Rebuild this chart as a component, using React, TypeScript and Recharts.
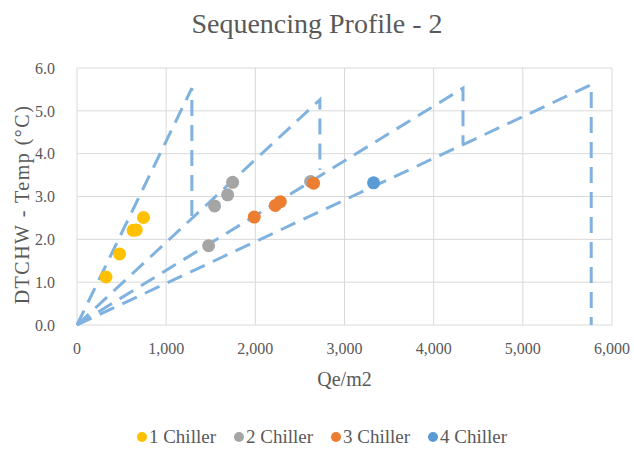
import React from 'react';
import {
  ComposedChart,
  Scatter,
  Line,
  XAxis,
  YAxis,
  CartesianGrid,
  Legend,
} from 'recharts';

// chiller operating points: Qe/m2 vs DTCHW
const chiller1Qe = [325, 477, 630, 665, 746];
const chiller1Dt = [1.12, 1.66, 2.21, 2.22, 2.51];
const chiller2Qe = [1476, 1543, 1689, 1745, 2620];
const chiller2Dt = [1.85, 2.78, 3.04, 3.33, 3.35];
const chiller3Qe = [1988, 2224, 2280, 2653];
const chiller3Dt = [2.52, 2.79, 2.88, 3.31];
const chiller4Qe = [3326];
const chiller4Dt = [3.32];

// sequencing boundaries (dashed)
const bound1Qe = [0, 1288, 1288];
const bound1Dt = [0, 5.53, 2.49];
const bound2Qe = [0, 2724, 2724];
const bound2Dt = [0, 5.26, 3.62];
const bound3Qe = [0, 4329, 4329];
const bound3Dt = [0, 5.53, 4.21];
const bound4Qe = [0, 5767, 5767];
const bound4Dt = [0, 5.61, 0];

const xTicks = [0, 1000, 2000, 3000, 4000, 5000, 6000];
const yTicks = [0, 1, 2, 3, 4, 5, 6];

const seriesNames = ['1 Chiller', '2 Chiller', '3 Chiller', '4 Chiller'];
const seriesColors = ['#FFC000', '#A5A5A5', '#ED7D31', '#5B9BD5'];

const toPts = (xs: number[], ys: number[]) => xs.map((x, i) => ({ x, y: ys[i] }));

const FONT = "'Liberation Serif', 'Times New Roman', serif";
const TXT = '#595959';
const DASH = '#80B2E0';

const boundaries = [
  toPts(bound1Qe, bound1Dt),
  toPts(bound2Qe, bound2Dt),
  toPts(bound3Qe, bound3Dt),
  toPts(bound4Qe, bound4Dt),
];

const chillers = [
  toPts(chiller1Qe, chiller1Dt),
  toPts(chiller2Qe, chiller2Dt),
  toPts(chiller3Qe, chiller3Dt),
  toPts(chiller4Qe, chiller4Dt),
];

function YTitle({ viewBox }: any) {
  const x = viewBox.x + 22;
  const y = viewBox.y + viewBox.height / 2 + 8;
  return (
    <text
      x={x}
      y={y}
      transform={`rotate(-90, ${x}, ${y})`}
      textAnchor="middle"
      dominantBaseline="central"
      fill={TXT}
      fontSize={20}
      fontFamily={FONT}
      letterSpacing={1.5}
    >
      DTCHW - Temp (°C)
    </text>
  );
}

function LegendRow() {
  return (
    <div style={{ display: 'flex', justifyContent: 'center', paddingLeft: 32, fontFamily: FONT, fontSize: 19, color: TXT, lineHeight: '24px' }}>
      {seriesNames.map((n, i) => (
        <div key={n} style={{ display: 'flex', alignItems: 'center', marginRight: i < 3 ? 18 : 0 }}>
          <svg width={10} height={10} style={{ marginRight: 2 }}>
            <circle cx={5} cy={5} r={5} fill={seriesColors[i]} />
          </svg>
          <span>{n}</span>
        </div>
      ))}
    </div>
  );
}

export default function App() {
  return (
    <div style={{ position: 'absolute', left: 0, top: 0, width: 634, height: 450, background: '#fff', fontFamily: FONT }}>
      <div
        style={{
          position: 'absolute',
          top: 8,
          left: 0,
          width: 634,
          textAlign: 'center',
          fontFamily: FONT,
          fontSize: 28,
          lineHeight: 'normal',
          color: TXT,
        }}
      >
        Sequencing Profile - 2
      </div>
      <ComposedChart width={634} height={450} margin={{ top: 68, right: 22, left: 0, bottom: 39 }}>
        <CartesianGrid stroke="#d9d9d9" />
        <XAxis
          type="number"
          dataKey="x"
          domain={[0, 6000]}
          ticks={xTicks}
          tickFormatter={(v: number) => v.toLocaleString('en-US')}
          axisLine={false}
          tickLine={false}
          tickMargin={12}
          height={62}
          tick={{ fill: TXT, fontSize: 16, fontFamily: FONT }}
          label={{ value: 'Qe/m2', position: 'insideBottom', offset: 1, fill: TXT, fontSize: 20, fontFamily: FONT }}
        />
        <YAxis
          type="number"
          dataKey="y"
          domain={[0, 6]}
          ticks={yTicks}
          tickFormatter={(v: number) => v.toFixed(1)}
          axisLine={false}
          tickLine={false}
          tickMargin={16}
          width={77}
          tick={{ fill: TXT, fontSize: 16, fontFamily: FONT }}
          label={{ content: YTitle }}
        />
        {boundaries.map((pts, i) => (
          <Line
            key={i}
            data={pts}
            dataKey="y"
            stroke={DASH}
            strokeWidth={3}
            strokeDasharray="16 9"
            dot={false}
            activeDot={false}
            legendType="none"
            isAnimationActive={false}
          />
        ))}
        {chillers.map((pts, i) => (
          <Scatter
            key={seriesNames[i]}
            name={seriesNames[i]}
            data={pts}
            fill={seriesColors[i]}
            isAnimationActive={false}
            shape={(p: any) => <circle cx={p.cx} cy={p.cy} r={6.5} fill={seriesColors[i]} />}
          />
        ))}
        <Legend verticalAlign="bottom" height={24} wrapperStyle={{ bottom: 1 }} content={() => <LegendRow />} />
      </ComposedChart>
    </div>
  );
}
